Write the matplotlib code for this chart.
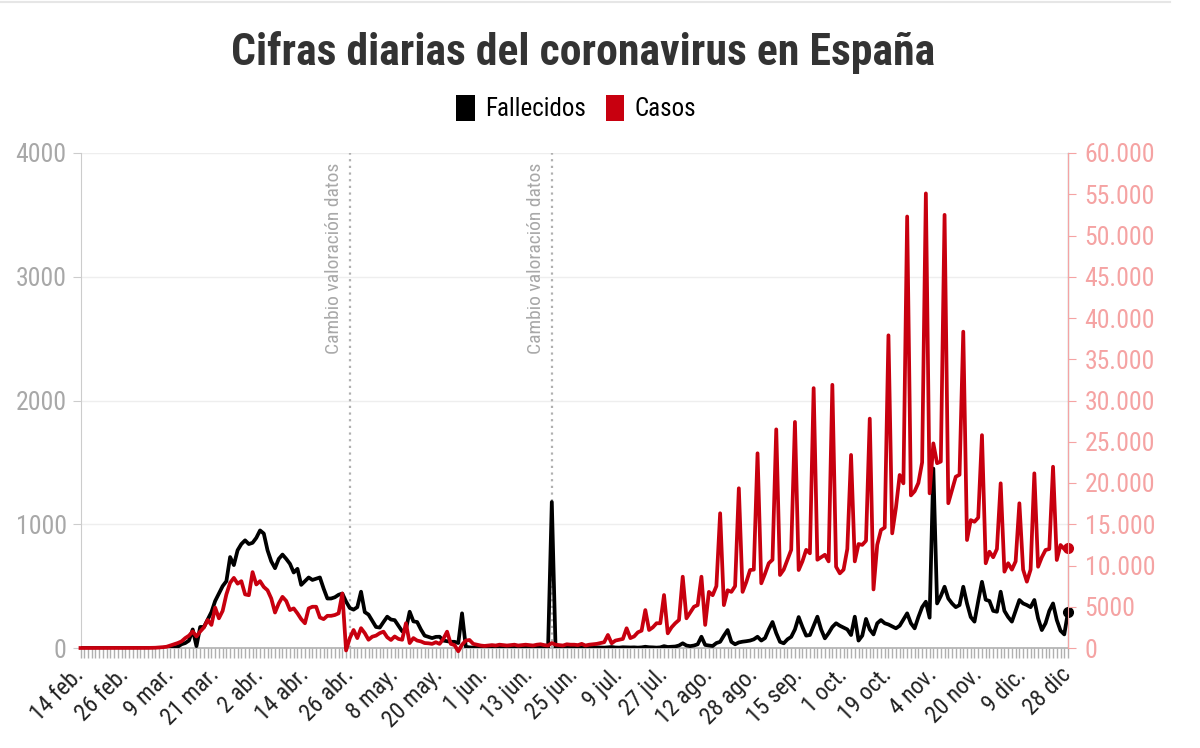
import matplotlib
matplotlib.use("Agg")
import matplotlib.pyplot as plt
import matplotlib.transforms as mtransforms
from matplotlib.patches import Patch
from matplotlib.ticker import FuncFormatter

# one value per reported day (weekends dropped from July on), 14 feb -> 28 dic
tick_labels = ["14 feb.", "26 feb.", "9 mar.", "21 mar.", "2 abr.", "14 abr.",
               "26 abr.", "8 may.", "20 may.", "1 jun.", "13 jun.", "25 jun.",
               "9 jul.", "27 jul.", "12 ago.", "28 ago.", "15 sep.", "1 oct.",
               "19 oct.", "4 nov.", "20 nov.", "9 dic.", "28 dic"]

fallecidos = [
    0, 0, 0, 0, 0, 0, 0, 0, 0, 0, 0, 0,
    0, 0, 0, 0, 0, 0, 0, 0, 0, 0, 1, 3,
    3, 5, 10, 30, 40, 60, 150, 15, 170, 170, 230, 290,
    380, 440, 500, 540, 735, 670, 790, 840, 870, 840, 850, 890,
    950, 925, 790, 700, 645, 720, 755, 720, 680, 610, 640, 510,
    540, 570, 550, 560, 570, 480, 400, 400, 410, 430, 440, 375,
    323, 310, 330, 455, 290, 270, 220, 170, 165, 210, 253, 230,
    225, 180, 135, 150, 293, 215, 210, 150, 100, 90, 80, 90,
    91, 60, 55, 50, 50, 40, 280, 10, 5, 3, 2, 4,
    2, 3, 1, 2, 5, 3, 2, 4, 1, 2, 3, 2,
    1, 3, 2, 4, 2, 1, 1180, 3, 5, 2, 4, 3,
    3, 5, 3, 5, 4, 3, 5, 4, 3, 5, 8, 4,
    3, 6, 5, 4, 5, 3, 5, 10, 6, 5, 3, 5,
    15, 8, 10, 12, 20, 38, 20, 15, 20, 30, 91, 25,
    20, 16, 40, 50, 100, 145, 50, 30, 45, 51, 55, 60,
    70, 91, 60, 80, 150, 210, 120, 50, 38, 70, 90, 150,
    250, 170, 100, 105, 180, 253, 150, 78, 120, 170, 200, 180,
    165, 150, 105, 253, 60, 100, 235, 150, 110, 200, 226, 200,
    190, 175, 159, 180, 230, 280, 200, 159, 250, 330, 374, 245,
    1450, 360, 420, 495, 400, 360, 330, 347, 495, 360, 250, 213,
    380, 535, 390, 380, 300, 293, 455, 300, 250, 213, 300, 388,
    360, 347, 330, 388, 240, 145, 200, 300, 360, 226, 140, 110,
    290,
]

casos = [
    0, 0, 0, 0, 0, 0, 0, 0, 0, 0, 0, 0,
    0, 0, 0, 0, 0, 0, 10, 20, 30, 60, 100, 150,
    300, 450, 600, 800, 1200, 1500, 2000, 1400, 2000, 2500, 3400, 2800,
    4900, 3600, 4500, 6500, 7900, 8500, 7800, 8100, 6500, 6400, 9200, 7700,
    8100, 7400, 7000, 6000, 4300, 5400, 6200, 5700, 4600, 4800, 4200, 3500,
    3000, 4800, 5000, 5000, 3700, 3500, 3900, 3900, 4000, 4200, 6600, -300,
    1200, 2180, 1200, 2400, 1800, 1000, 1370, 1500, 1800, 1980, 1300, 970,
    1400, 1100, 1000, 3000, 600, 1200, 900, 800, 600, 570, 500, 700,
    500, 1100, 1980, 500, 350, -400, 400, 900, 970, 500, 400, 300,
    250, 300, 350, 300, 400, 350, 300, 350, 400, 300, 350, 400,
    350, 300, 400, 450, 350, 300, 600, 400, 350, 300, 450, 400,
    400, 350, 500, 300, 400, 450, 500, 600, 700, 1580, 570, 900,
    1000, 1100, 2390, 1200, 1400, 1900, 2100, 4600, 2180, 2500, 3000, 3000,
    6420, 1780, 2500, 3000, 3400, 8640, 3600, 4300, 5000, 5200, 8640, 2800,
    6800, 6400, 7500, 16330, 5200, 7000, 6800, 7500, 19360, 6800, 8000, 9450,
    9500, 23600, 7840, 9000, 10270, 10700, 26500, 8850, 9500, 10700, 11900, 27400,
    9450, 10500, 11900, 11480, 31500, 10700, 11000, 11300, 10500, 31900, 9850, 9050,
    9500, 12000, 23400, 10500, 12600, 12500, 13000, 27800, 7100, 12500, 14300, 14600,
    37900, 13900, 17000, 20970, 19960, 52300, 18500, 19000, 20000, 22500, 55100, 18750,
    24800, 22400, 22600, 52500, 17550, 19150, 20760, 21000, 38340, 13090, 15500, 15300,
    15800, 25800, 10270, 11670, 11000, 12000, 19960, 9250, 10270, 9500, 10500, 17540,
    9500, 8040, 9500, 21170, 9850, 11000, 11880, 12000, 21970, 10670, 12480, 12000,
    12080,
]

cambios = [72, 126]  # "Cambio valoración datos"

plt.rcParams["font.family"] = ["Roboto Condensed", "DejaVu Sans"]

red = "#c8000f"
pink = "#f5a3a3"
grey = "#a8a8a8"

x = list(range(len(fallecidos)))

fig = plt.figure(figsize=(12, 7.48), dpi=100)
ax = fig.add_axes([80.5 / 1200, 1 - 648 / 748, (1068 - 80.5) / 1200, (648 - 153) / 748])
ax2 = ax.twinx()

ax.set_xlim(0, len(x) - 1)
ax.set_ylim(0, 4000)
ax2.set_ylim(0, 60000)

ax.yaxis.grid(True, color="#eeeeee", lw=1)
ax.set_axisbelow(True)

for idx in cambios:
    ax.axvline(idx, color="#b0b0b0", ls=(0, (1, 2)), lw=1.6, zorder=1)
    ax.text(idx - 1.8, 3920, "Cambio valoración datos", rotation=90,
            ha="right", va="top", color=grey, fontsize=14)

ax.plot(x, fallecidos, color="black", lw=2.7, zorder=3, solid_joinstyle="round")
ax.plot(x[-1], fallecidos[-1], "o", color="black", ms=7, clip_on=False, zorder=4)
ax2.plot(x, casos, color=red, lw=2.7, clip_on=False, solid_joinstyle="round")
ax2.plot(x[-1], casos[-1], "o", color=red, ms=7, clip_on=False)

# x axis: tick for every point, label every 12
ax.set_xticks(range(0, len(x), 12))
ax.set_xticklabels(tick_labels, rotation=45, ha="right", va="center",
                   rotation_mode="anchor", fontsize=17, color="#222222")
shift = mtransforms.ScaledTranslation(11 / 100, -3 / 100, fig.dpi_scale_trans)
for lab in ax.get_xticklabels():
    lab.set_transform(lab.get_transform() + shift)
ax.set_xticks(x, minor=True)
ax.tick_params(axis="x", which="both", length=7, color="#b0b0b0", width=1, pad=10)

ax.set_yticks(range(0, 4001, 1000))
ax.tick_params(axis="y", length=6, color="#cccccc", labelcolor=grey, labelsize=18.5, pad=4)
ax2.set_yticks(range(0, 60001, 5000))
ax2.yaxis.set_major_formatter(FuncFormatter(
    lambda v, p: f"{int(v):,}".replace(",", ".") if v >= 10000 else f"{int(v)}"))
ax2.tick_params(axis="y", length=6, color=pink, labelcolor=pink, labelsize=18.5, pad=6)

for a in (ax, ax2):
    a.spines["top"].set_visible(False)
ax.spines["left"].set_color("#cccccc")
ax.spines["bottom"].set_color("#b0b0b0")
ax.spines["bottom"].set_linewidth(1.2)
ax2.spines["left"].set_visible(False)
ax2.spines["bottom"].set_visible(False)
ax2.spines["right"].set_color(pink)

fig.text(583 / 1200, 1 - 52 / 748, "Cifras diarias del coronavirus en España",
         ha="center", va="center", fontsize=31.5, weight="bold", color="#333333")

fig.legend(handles=[Patch(fc="black"), Patch(fc=red)], labels=["Fallecidos", "Casos"],
           loc="center", bbox_to_anchor=(576 / 1200, 1 - 108 / 748), ncol=2,
           frameon=False, fontsize=18, handlelength=0.75, handleheight=1.2,
           handletextpad=0.4, columnspacing=0.8)

fig.add_artist(plt.Line2D([0, 0.975], [0.997, 0.997], color="#e6e6e6", lw=1.5))

fig.savefig("out.png", dpi=100)
